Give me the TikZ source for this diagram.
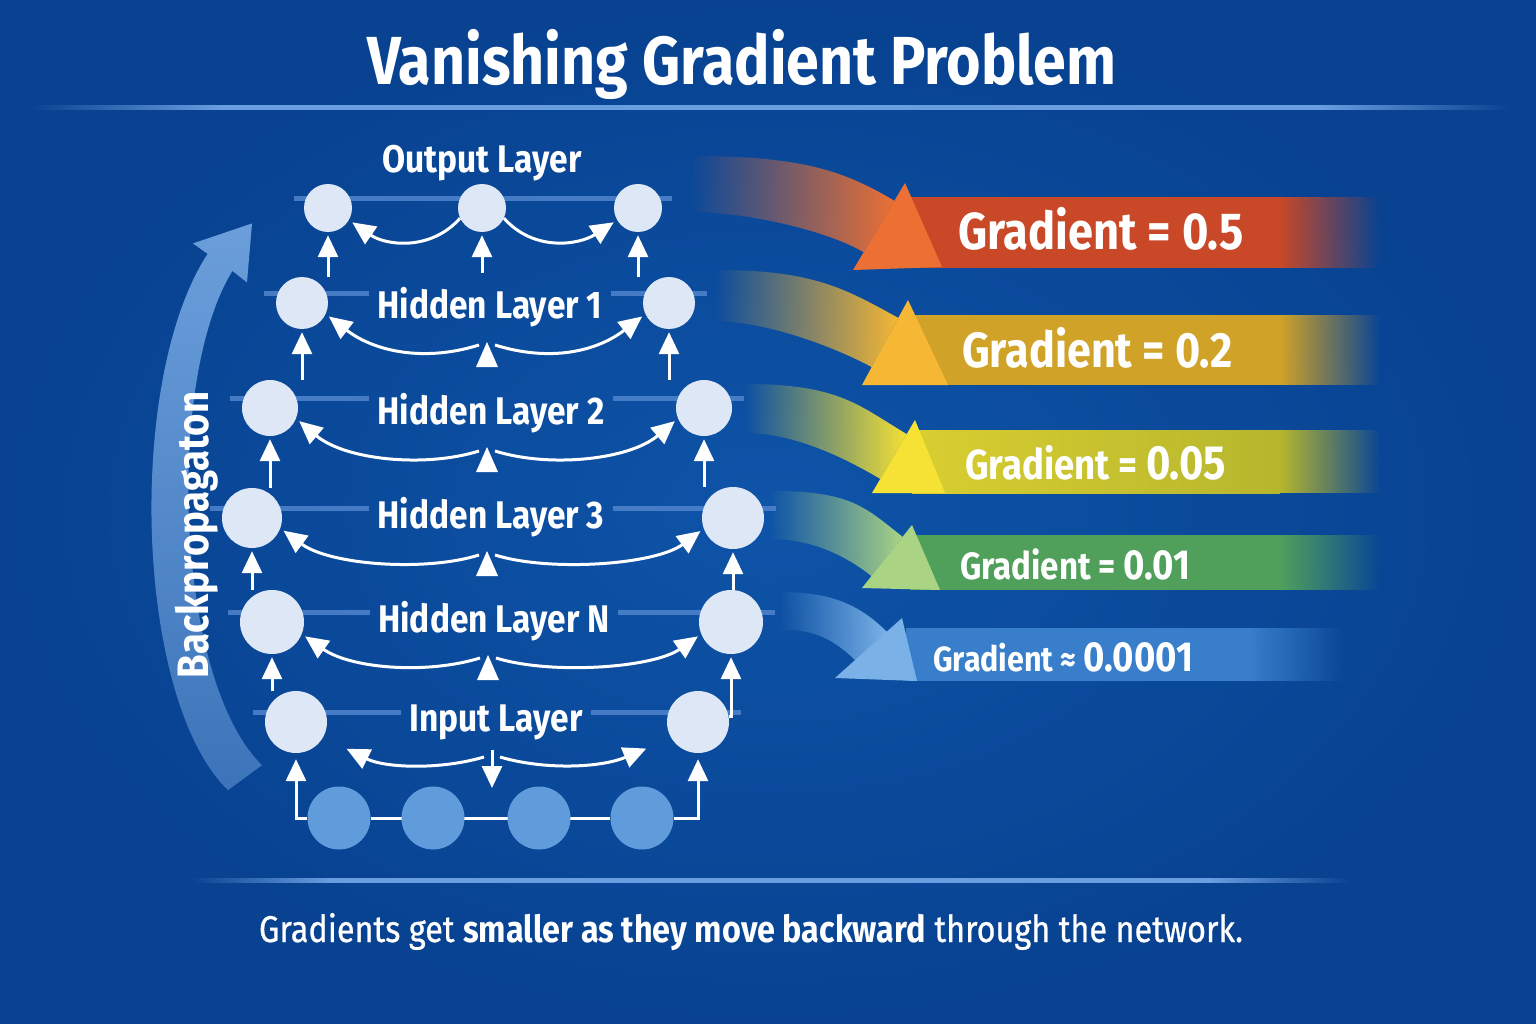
\documentclass[tikz,border=0pt]{standalone}
\usepackage{fontspec}
\setmainfont{Fira Sans}[FakeStretch=0.87]
\newfontfamily\medfont{Fira Sans}[FakeStretch=0.87, FakeBold=0.7]
\usetikzlibrary{arrows.meta,calc,fadings}
\pgfdeclarelayer{back}
\pgfsetlayers{back,main}
\definecolor{bgin}{RGB}{14,84,168}
\definecolor{bgout}{RGB}{8,66,145}
\definecolor{nodec}{RGB}{221,231,245}
\definecolor{inc}{RGB}{96,156,219}
\definecolor{linec}{RGB}{105,158,225}
\definecolor{hlc}{RGB}{80,132,205}
\definecolor{bpc}{RGB}{125,175,232}
\definecolor{ra}{RGB}{236,112,52}
\definecolor{rb}{RGB}{200,72,40}
\definecolor{oa}{RGB}{245,183,52}
\definecolor{ob}{RGB}{208,162,40}
\definecolor{ya}{RGB}{245,226,52}
\definecolor{yb}{RGB}{182,182,45}
\definecolor{ga}{RGB}{170,212,132}
\definecolor{gb}{RGB}{80,160,92}
\definecolor{ba}{RGB}{122,178,232}
\definecolor{bb}{RGB}{56,126,202}
\tikzfading[name=fadein, left color=transparent!100, middle color=transparent!0, right color=transparent!0]
\tikzfading[name=linin, left color=transparent!100, right color=transparent!0]
\tikzfading[name=fadeout, left color=transparent!0, right color=transparent!100]
\tikzfading[name=fadeup, bottom color=transparent!55, top color=transparent!15]
\tikzset{
  wtxt/.style={text=white, inner sep=0pt},
  titletxt/.style={wtxt, font=\bfseries\fontsize{68}{80}\selectfont},
  labtxt/.style={wtxt, anchor=base, font=\bfseries\fontsize{38.5}{42}\selectfont},
  gtxt/.style={wtxt, anchor=base west},
  nd/.style={circle, fill=nodec, inner sep=0pt, minimum size=#1},
  innd/.style={circle, fill=inc, inner sep=0pt, minimum size=63pt},
  varrow/.style={white, line width=3pt, -{Triangle[width=20pt,length=22pt]}, shorten >=3pt},
  carrow/.style={white, line width=3pt, -{Triangle[width=21pt,length=23pt]}, shorten >=4pt},
  wline/.style={white, line width=3pt},
  hline/.style={hlc, line width=5pt, opacity=0.85},
  fline/.style={linec},
}
\begin{document}
\begin{tikzpicture}[x=1pt,y=-1pt]
\useasboundingbox (0,0) rectangle (1536,1024);
\begin{pgfonlayer}{back}
\fill[inner color=bgin, outer color=bgout] (0,0) rectangle (1536,1024);
\end{pgfonlayer}

% title and rules
\node[titletxt, anchor=base] (title) at (742,85) {Vanishing Gradient Problem};
\fill[fline, path fading=linin] (30,105) rectangle (220,110);
\fill[fline] (220,105) rectangle (1320,110);
\fill[fline, path fading=fadeout] (1320,105) rectangle (1510,110);
\fill[fline, path fading=linin] (190,878) rectangle (330,883);
\fill[fline] (330,878) rectangle (1210,883);
\fill[fline, path fading=fadeout] (1210,878) rectangle (1350,883);

% backpropagation arrow
\fill[bpc, path fading=fadeup] (228,790) .. controls (135,700) and (125,380) .. (207.6,253.5)
  -- (193,243) -- (252,223) -- (247,282) -- (232.4,270.5)
  .. controls (165,380) and (175,680) .. (262,765) -- cycle;
\node[wtxt, rotate=90, anchor=base, font=\bfseries\fontsize{44}{48}\selectfont] (bp) at (208,535) {Backpropagaton};

% nodes
\node[nd=48pt] (O1) at (328,208) {};
\node[nd=48pt] (O2) at (482,208) {};
\node[nd=48pt] (O3) at (638,208) {};
\node[nd=52pt] (H1l) at (302,303) {};
\node[nd=52pt] (H1r) at (669,303) {};
\node[nd=56pt] (H2l) at (270,408) {};
\node[nd=56pt] (H2r) at (704,408) {};
\node[nd=60pt] (H3l) at (252,518) {};
\node[nd=62pt] (H3r) at (733,518) {};
\node[nd=64pt] (HNl) at (272,622) {};
\node[nd=64pt] (HNr) at (731,622) {};
\node[nd=62pt] (Il) at (296,722) {};
\node[nd=62pt] (Ir) at (698,722) {};
\node[innd] (B1) at (339,818) {};
\node[innd] (B2) at (433,818) {};
\node[innd] (B3) at (539,818) {};
\node[innd] (B4) at (642,818) {};

% labels
\node[labtxt] (LO) at (482,173) {Output Layer};
\node[labtxt] (L1) at (490,318) {Hidden Layer 1};
\node[labtxt] (L2) at (491,424) {Hidden Layer 2};
\node[labtxt] (L3) at (491,528) {Hidden Layer 3};
\node[labtxt] (LN) at (494,632) {Hidden Layer N};
\node[labtxt] (LI) at (496,731) {Input Layer};

% faint layer lines
\begin{pgfonlayer}{back}
\draw[hline] ($(O1.west)+(-10,-9)$) -- ($(O3.east)+(10,-9)$);
\draw[hline, shorten >=8pt] (264,293) -- (L1.west |- 0,293);
\draw[hline, shorten <=8pt] (L1.east |- 0,293) -- (707,293);
\draw[hline, shorten >=8pt] (230,398) -- (L2.west |- 0,398);
\draw[hline, shorten <=8pt] (L2.east |- 0,398) -- (744,398);
\draw[hline, shorten >=8pt] (210,508) -- (L3.west |- 0,508);
\draw[hline, shorten <=8pt] (L3.east |- 0,508) -- (776,508);
\draw[hline, shorten >=8pt] (228,612) -- (LN.west |- 0,612);
\draw[hline, shorten <=8pt] (LN.east |- 0,612) -- (775,612);
\draw[hline, shorten >=8pt] (253,712) -- (LI.west |- 0,712);
\draw[hline, shorten <=8pt] (LI.east |- 0,712) -- (741,712);
\draw[wline] (B1) -- (B4);
\end{pgfonlayer}

% vertical arrows
\draw[varrow] (O1.south |- H1l.north) -- (O1.south);
\draw[varrow] (O3.south |- H1r.north) -- (O3.south);
\draw[varrow] (482,273) -- (O2.south);
\draw[varrow] (H1l.south |- H2l.north) -- (H1l.south);
\draw[varrow] (H1r.south |- H2r.north) -- (H1r.south);
\draw[varrow] (H2l.south |- H3l.north) -- (H2l.south);
\draw[varrow] (H2r.south |- H3r.north) -- (H2r.south);
\draw[varrow] (H3l.south |- HNl.north) -- (H3l.south);
\draw[varrow] (H3r.south |- HNr.north) -- (H3r.south);
\draw[varrow] (HNl.south |- Il.north) -- (HNl.south);
\draw[varrow] (Ir.10) -| (HNr.south);
\draw[varrow, shorten >=6pt] (B1.west) -| (Il.south);
\draw[varrow, shorten >=6pt] (B4.east) -| (Ir.south);

% curved arrows in layers
\draw[carrow] (O2.205) .. controls (430,252) and (385,245) .. (O1.-30);
\draw[carrow] (O2.-25) .. controls (534,252) and (579,245) .. (O3.210);

\draw[carrow] (479,345) .. controls (425,362) and (375,352) .. (H1l.-25);
\draw[carrow] (495,345) .. controls (549,362) and (596,352) .. (H1r.205);
\fill[white] (476,367) -- (487,342) -- (498,367) -- cycle;

\draw[carrow] (479,451) .. controls (425,468) and (345,460) .. (H2l.-22);
\draw[carrow] (495,451) .. controls (549,468) and (629,460) .. (H2r.202);
\fill[white] (476,472) -- (487,447) -- (498,472) -- cycle;

\draw[carrow] (479,555) .. controls (425,572) and (330,565) .. (H3l.-20);
\draw[carrow] (495,555) .. controls (549,572) and (655,565) .. (H3r.200);
\fill[white] (476,576) -- (487,551) -- (498,576) -- cycle;

\draw[carrow] (480,658) .. controls (425,675) and (350,668) .. (HNl.-22);
\draw[carrow] (496,658) .. controls (551,675) and (653,668) .. (HNr.202);
\fill[white] (477,680) -- (488,655) -- (499,680) -- cycle;

\draw[carrow] (484,757) .. controls (440,770) and (385,768) .. (343,747);
\draw[carrow] (500,757) .. controls (544,770) and (600,768) .. (650,747);
\draw[varrow, shorten >=0pt] (492,750) -- (492,788);

% gradient arrows and banners
\fill[ra, path fading=fadein] (690,156) .. controls (800,156) and (842.9,170) .. (894.4,200.8) -- (863.6,252.2) .. controls (829.3,231.7) and (750,212) .. (690,212) -- cycle;
\fill[rb] (900,197) rectangle (1280,268);
\fill[rb, path fading=fadeout] (1280,197) rectangle (1380,268);
\fill[ra] (905,183) -- (942,267) -- (853,270) -- cycle;
\node[gtxt, font=\bfseries\fontsize{52}{58}\selectfont] (g1) at (958,250) {Gradient = 0.5};

\fill[oa, path fading=fadein] (715,270) .. controls (815,270) and (845.5,289.3) .. (898.3,317.9) -- (871.7,367.1) .. controls (836.5,348.1) and (770,322) .. (715,321) -- cycle;
\fill[ob] (903,315) rectangle (1280,385);
\fill[ob, path fading=fadeout] (1280,315) rectangle (1380,385);
\fill[oa] (908,300) -- (948,385) -- (862,385) -- cycle;
\node[gtxt, font=\bfseries\fontsize{49.5}{55}\selectfont] (g2) at (962,367) {Gradient = 0.2};

\fill[ya, path fading=fadein] (745,384) .. controls (840,384) and (859.3,406.2) .. (906.7,434.1) -- (880.3,478.9) .. controls (845.8,458.6) and (795,433) .. (745,433) -- cycle;
\fill[left color=ya!55!yb, right color=yb] (912,430) rectangle (1280,493);
\fill[yb, path fading=fadeout] (1280,430) rectangle (1380,493);
\fill[ya] (915,420) -- (945,493) -- (872,493) -- cycle;
\node[gtxt] (g3) at (965,479) {\bfseries{\fontsize{42}{48}\selectfont Gradient = }{\fontsize{48}{54}\selectfont 0.05}};

\fill[ga, path fading=fadein] (770,491) .. controls (850,491) and (863.4,505.8) .. (902.6,536.9) -- (871.5,576.1) .. controls (844.1,554.3) and (810,539) .. (770,539) -- cycle;
\fill[gb] (910,535) rectangle (1280,590);
\fill[gb, path fading=fadeout] (1280,535) rectangle (1380,590);
\fill[ga] (912,525) -- (940,590) -- (862,588) -- cycle;
\node[gtxt] (g4) at (960,579) {\bfseries{\fontsize{38}{44}\selectfont Gradient = }{\fontsize{42}{48}\selectfont 0.01}};

\fill[ba, path fading=fadein] (780,592) .. controls (830,592) and (859,604) .. (887,632) -- (857,662) .. controls (837,642) and (815,628) .. (780,630) -- cycle;
\fill[bb] (906,628) rectangle (1250,681);
\fill[bb, path fading=fadeout] (1250,628) rectangle (1345,681);
\fill[ba] (902,618) -- (917,681) -- (835,678) -- cycle;
\node[gtxt] (g5) at (933,671) {\bfseries{\fontsize{35}{40}\selectfont Gradient ≈ }{\fontsize{42}{48}\selectfont 0.0001}};

% caption
\node[wtxt, anchor=base, font=\fontsize{37.2}{42}\selectfont] (cap) at (751,942) {{\medfont Gradients get} \textbf{smaller as they move backward} {\medfont through the network.}};
\end{tikzpicture}
\end{document}
